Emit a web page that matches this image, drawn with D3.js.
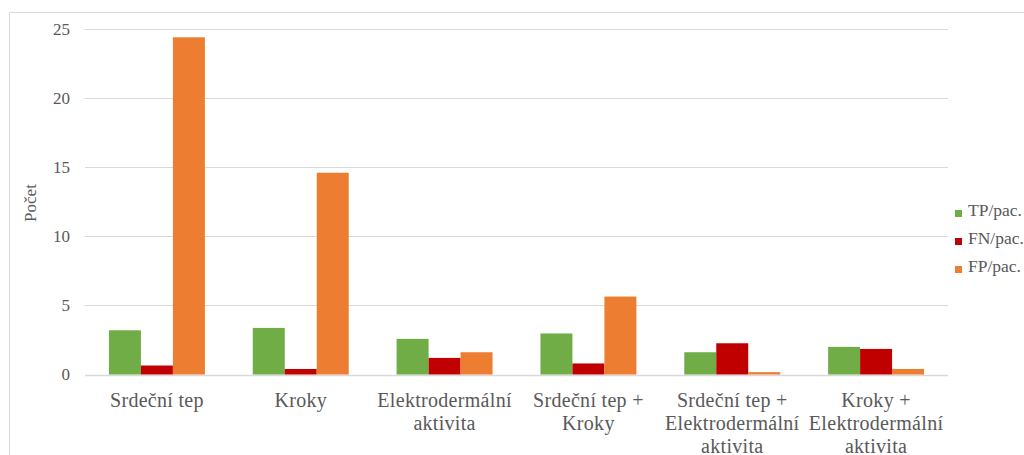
<!DOCTYPE html>
<html>
<head>
<meta charset="utf-8">
<script src="https://cdn.jsdelivr.net/npm/d3@7"></script>
<style>
  html, body { margin: 0; padding: 0; background: #fff; }
  svg { display: block; }
</style>
</head>
<body>
<svg id="chart" width="1024" height="455"></svg>
<script>
const categories = [
  ["Srdeční tep"],
  ["Kroky"],
  ["Elektrodermální", "aktivita"],
  ["Srdeční tep +", "Kroky"],
  ["Srdeční tep +", "Elektrodermální", "aktivita"],
  ["Kroky +", "Elektrodermální", "aktivita"]
];
const seriesNames = ["TP/pac.", "FN/pac.", "FP/pac."];
const seriesColors = ["#70ad47", "#c00000", "#ed7d31"];
const tpValues = [3.2, 3.37, 2.58, 2.97, 1.61, 2.0];
const fnValues = [0.65, 0.4, 1.2, 0.8, 2.26, 1.85];
const fpValues = [24.4, 14.6, 1.61, 5.64, 0.17, 0.4];
const yTicks = [0, 5, 10, 15, 20, 25];
const yTitle = "Počet";

const FONT = "'Liberation Serif', 'Times New Roman', serif";
const series = [tpValues, fnValues, fpValues];
const svg = d3.select("#chart");

// frame
svg.append("path")
  .attr("d", "M9.5,455 V12.5 H1024")
  .attr("fill", "none").attr("stroke", "#d9d9d9").attr("stroke-width", 1);

const plotLeft = 85, plotRight = 948, plotTop = 29, plotBottom = 374.5;
const x = d3.scaleBand().domain(d3.range(categories.length)).range([plotLeft, plotRight]).paddingInner(0.333).paddingOuter(0.1665);
const y = d3.scaleLinear().domain([0, 25]).range([plotBottom, plotTop]);
const xs = d3.scaleBand().domain(d3.range(series.length)).range([0, x.bandwidth()]);

// gridlines
svg.append("g").selectAll("line").data(yTicks).join("line")
  .attr("x1", plotLeft).attr("x2", plotRight)
  .attr("y1", d => Math.round(y(d)) + 0.5).attr("y2", d => Math.round(y(d)) + 0.5)
  .attr("stroke", "#d9d9d9").attr("stroke-width", d => d === 0 ? 1.5 : 1.2);

// y axis labels
const yAxis = d3.axisLeft(y).tickValues(yTicks).tickSize(0).tickPadding(0);
const gy = svg.append("g").attr("transform", `translate(70,0)`).call(yAxis);
gy.attr("font-family", null).attr("font-size", null);
gy.select(".domain").remove();
gy.selectAll("text").style("font-size", "17px").style("fill", "#595959")
  .style("font-family", FONT);

// bars
const groups = svg.append("g").selectAll("g").data(categories).join("g")
  .attr("transform", (d, i) => `translate(${x(i)},0)`);
groups.selectAll("rect").data((d, i) => series.map((s, j) => ({ j, v: s[i] }))).join("rect")
  .attr("x", d => xs(d.j))
  .attr("width", xs.bandwidth())
  .attr("y", d => y(d.v))
  .attr("height", d => y(0) - y(d.v))
  .attr("fill", d => seriesColors[d.j]);

// category labels
const lab = svg.append("g").selectAll("text").data(categories).join("text")
  .attr("x", (d, i) => x(i) + x.bandwidth() / 2)
  .attr("y", 406.5)
  .attr("text-anchor", "middle")
  .style("font-family", FONT)
  .style("font-size", "20px")
  .style("letter-spacing", "0.3px")
  .style("fill", "#595959");
lab.selectAll("tspan").data(d => d).join("tspan")
  .attr("x", function () { return d3.select(this.parentNode).attr("x"); })
  .attr("dy", (d, k) => k === 0 ? 0 : 23)
  .text(d => d);

// y title
svg.append("text")
  .attr("transform", "translate(36,203) rotate(-90)")
  .attr("text-anchor", "middle")
  .style("font-family", FONT)
  .style("font-size", "17px")
  .style("fill", "#595959")
  .text(yTitle);

// legend
const leg = svg.append("g").selectAll("g").data(seriesNames).join("g")
  .attr("transform", (d, i) => `translate(955,${213.5 + i * 28})`);
leg.append("rect").attr("x", 0).attr("y", -3.5).attr("width", 7).attr("height", 7)
  .attr("fill", (d, i) => seriesColors[i]);
leg.append("text").attr("x", 13).attr("y", 2.5)
  .style("font-family", FONT).style("font-size", "17.5px").style("fill", "#595959")
  .text(d => d);
</script>
</body>
</html>
